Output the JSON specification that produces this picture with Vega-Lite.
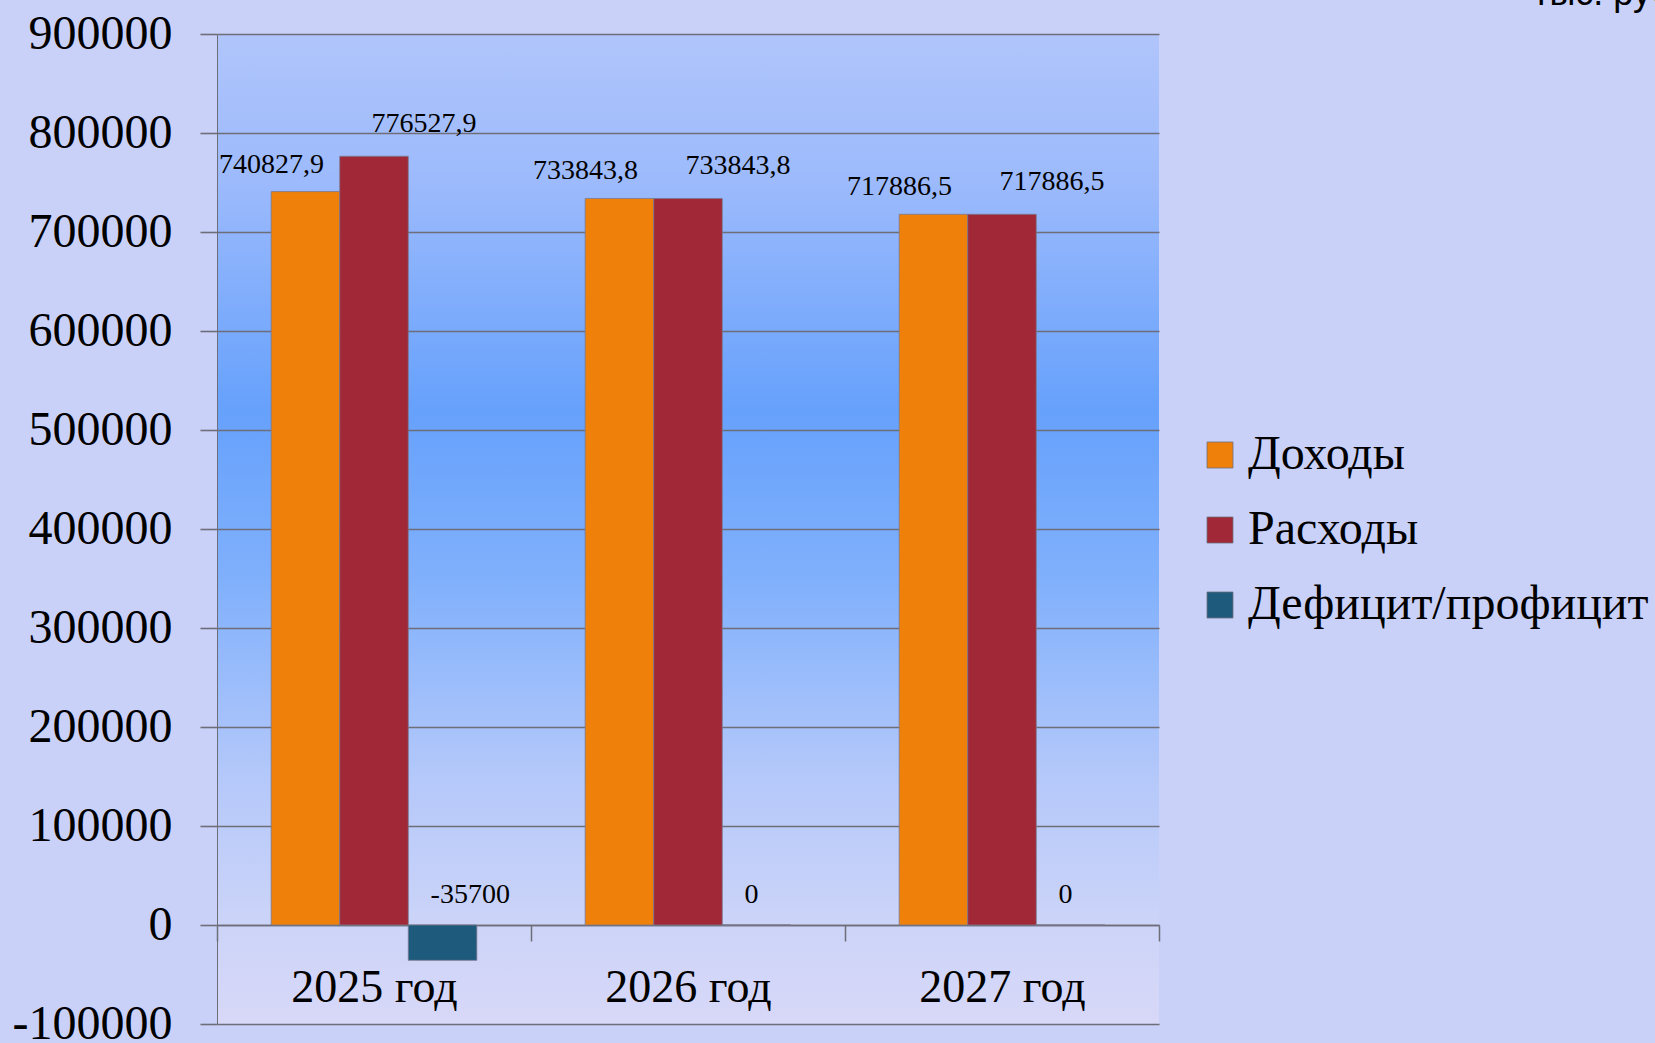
{
  "$schema": "https://vega.github.io/schema/vega-lite/v6.json",
  "width": 942,
  "height": 990,
  "autosize": {"type": "none"},
  "padding": {"left": 217, "top": 34, "right": 496, "bottom": 19},
  "background": "#c9d1f9",
  "view": {
    "stroke": null,
    "fill": {
      "gradient": "linear",
      "x1": 0, "y1": 0, "x2": 0, "y2": 1,
      "stops": [
        {"offset": 0, "color": "#b0c5fb"},
        {"offset": 0.15, "color": "#9cbafc"},
        {"offset": 0.38, "color": "#66a1fc"},
        {"offset": 0.55, "color": "#80b0fc"},
        {"offset": 0.75, "color": "#b4c8fa"},
        {"offset": 0.9, "color": "#ccd4f8"},
        {"offset": 1, "color": "#d8d8f8"}
      ]
    }
  },
  "title": {
    "text": "тыс. руб.",
    "anchor": "start",
    "frame": "group",
    "font": "Liberation Sans",
    "fontSize": 36,
    "fontWeight": "normal",
    "color": "#000000",
    "dx": 1316,
    "dy": 35,
    "baseline": "alphabetic",
    "offset": 4
  },
  "data": {
    "values": [
      {"year": "2025 год", "series": "Доходы", "value": 740827.9},
      {"year": "2025 год", "series": "Расходы", "value": 776527.9},
      {"year": "2025 год", "series": "Дефицит/профицит", "value": -35700},
      {"year": "2026 год", "series": "Доходы", "value": 733843.8},
      {"year": "2026 год", "series": "Расходы", "value": 733843.8},
      {"year": "2026 год", "series": "Дефицит/профицит", "value": 0},
      {"year": "2027 год", "series": "Доходы", "value": 717886.5},
      {"year": "2027 год", "series": "Расходы", "value": 717886.5},
      {"year": "2027 год", "series": "Дефицит/профицит", "value": 0}
    ]
  },
  "encoding": {
    "x": {
      "field": "year",
      "type": "nominal",
      "sort": ["2025 год", "2026 год", "2027 год"],
      "scale": {"paddingInner": 0, "paddingOuter": 0},
      "axis": {
        "title": null,
        "labelAngle": 0,
        "labelFont": "Liberation Serif",
        "labelFontSize": 46,
        "labelColor": "#000000",
        "tickSize": 16,
        "tickColor": "#6e6e78",
        "tickWidth": 1.5,
        "domainColor": "#6e6e78",
        "domainWidth": 1.5,
        "labelPadding": 24,
        "tickBand": "extent",
        "offset": -99,
        "grid": false
      }
    },
    "xOffset": {
      "field": "series",
      "type": "nominal",
      "sort": ["Доходы", "Расходы", "Дефицит/профицит"],
      "scale": {"paddingInner": 0, "paddingOuter": 0.79}
    },
    "y": {
      "field": "value",
      "type": "quantitative",
      "scale": {"domain": [-100000, 900000], "nice": false, "zero": false},
      "axis": {
        "title": null,
        "values": [-100000, 0, 100000, 200000, 300000, 400000, 500000, 600000, 700000, 800000, 900000],
        "format": "d",
        "labelFont": "Liberation Serif",
        "labelFontSize": 48,
        "labelColor": "#000000",
        "tickSize": 17,
        "tickColor": "#6e6e78",
        "tickWidth": 1.6,
        "domainColor": "#6e6e78",
        "domainWidth": 1,
        "labelPadding": 28,
        "labelFlush": false,
        "grid": true,
        "gridColor": "#6e6e78",
        "gridWidth": 1.6
      }
    }
  },
  "layer": [
    {
      "mark": {"type": "bar", "stroke": "#7a7a90", "strokeWidth": 0.8},
      "encoding": {
        "color": {
          "field": "series",
          "type": "nominal",
          "sort": ["Доходы", "Расходы", "Дефицит/профицит"],
          "scale": {
            "domain": ["Доходы", "Расходы", "Дефицит/профицит"],
            "range": ["#ef8009", "#a12837", "#1e5a7b"]
          },
          "legend": {
            "orient": "none",
            "legendX": 979,
            "legendY": 397,
            "title": null,
            "labelFont": "Liberation Serif",
            "labelFontSize": 48,
            "labelColor": "#000000",
            "labelLimit": 600,
            "symbolType": "square",
            "symbolSize": 676,
            "symbolStrokeWidth": 0.8,
            "symbolStrokeColor": "#707080",
            "symbolOpacity": 1,
            "rowPadding": 27,
            "labelOffset": 4
          }
        }
      }
    },
    {
      "transform": [{"filter": "datum.series === 'Доходы'"}],
      "mark": {"type": "text", "font": "Liberation Serif", "fontSize": 28, "color": "#000000", "baseline": "middle", "align": "center", "dx": -34, "dy": -27},
      "encoding": {"text": {"field": "value", "type": "quantitative", "format": "~f"}}
    },
    {
      "transform": [{"filter": "datum.series === 'Расходы'"}],
      "mark": {"type": "text", "font": "Liberation Serif", "fontSize": 28, "color": "#000000", "baseline": "middle", "align": "center", "dx": 50, "dy": -32},
      "encoding": {"text": {"field": "value", "type": "quantitative", "format": "~f"}}
    },
    {
      "transform": [{"filter": "datum.series === 'Дефицит/профицит'"}],
      "mark": {"type": "text", "font": "Liberation Serif", "fontSize": 28, "color": "#000000", "baseline": "middle", "align": "left", "dx": -12, "dy": -30},
      "encoding": {
        "y": {"datum": 0},
        "text": {"field": "value", "type": "quantitative", "format": "~f"}
      }
    }
  ],
  "config": {
    "locale": {
      "number": {"decimal": ",", "thousands": " ", "grouping": [3], "currency": ["", ""], "minus": "-"}
    }
  }
}
